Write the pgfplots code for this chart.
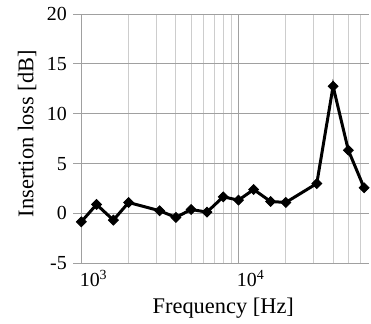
\documentclass[border=0pt]{standalone}
\usepackage{pgfplots}
\pgfplotsset{compat=1.18}
\usepackage{fontspec}
\setmainfont{Liberation Serif}
\definecolor{gridmaj}{RGB}{160,160,160}
\definecolor{gridmin}{RGB}{205,205,205}
\begin{document}
\begin{tikzpicture}
\useasboundingbox (-81.3bp,-60.7bp) rectangle (289.7bp,263.3bp);
\begin{axis}[
  at={(0,0)}, anchor=south west,
  scale only axis,
  width=288bp, height=249.3bp,
  xmode=log,
  xmin=1000, xmax=68000,
  ymin=-5, ymax=20,
  ytick={-5,0,5,10,15,20},
  yticklabels={-5,0,5,10,15,20},
  xtick={1000,10000},
  xticklabels={10\textsuperscript{3},10\textsuperscript{4}},
  minor xtick={2000,3000,4000,5000,6000,7000,8000,9000,20000,30000,40000,50000,60000},
  axis lines*=left,
  axis line style={gridmaj, line width=0.9bp},
  xmajorgrids, ymajorgrids, xminorgrids,
  major grid style={gridmaj, line width=0.9bp},
  minor grid style={gridmin, line width=0.9bp},
  tick align=outside,
  major tick length=8bp,
  ytick style={gridmaj, line width=0.9bp},
  xtick style={draw=none},
  minor tick length=0pt,
  ticklabel style={font=\fontsize{20}{24}\selectfont},
  xticklabel style={anchor=north west, xshift=-5bp, yshift=5bp},
  yticklabel style={xshift=-3bp},
  xlabel={Frequency [Hz]},
  ylabel={Insertion loss [dB]},
  label style={font=\fontsize{22.5}{26}\selectfont},
  xlabel style={at={(axis description cs:0.493,-0.18)}, anchor=center},
  ylabel style={at={(axis description cs:-0.1885,0.52)}, anchor=center, rotate=0},
  clip=false,
]
\addplot[black, line width=3bp, mark=square*, mark size=3.5bp,
  mark options={solid, fill=black, line width=0.8bp, rotate=45}] coordinates {
  (1000,-0.84)
  (1250,0.9)
  (1600,-0.67)
  (2000,1.1)
  (3150,0.27)
  (4000,-0.4)
  (5000,0.4)
  (6300,0.13)
  (8000,1.67)
  (10000,1.33)
  (12500,2.4)
  (16000,1.2)
  (20000,1.1)
  (31500,3.0)
  (40000,12.75)
  (50000,6.34)
  (63000,2.57)
};
\end{axis}
\end{tikzpicture}
\end{document}
